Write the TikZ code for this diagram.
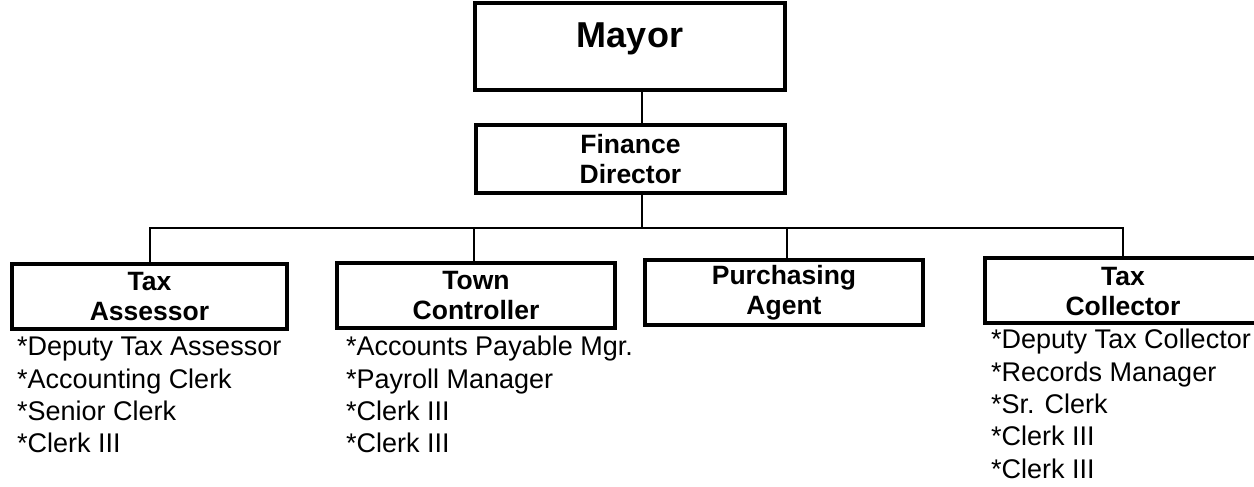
\documentclass[tikz,border=0pt]{standalone}
\usepackage{fontspec}
\setmainfont{Liberation Sans}
\begin{document}
\begin{tikzpicture}[x=1pt,y=-1pt,
  box/.style={draw, line width=4pt, inner sep=0pt, align=center,
    font=\bfseries\fontsize{26.5}{30}\selectfont},
  title/.style={inner sep=0pt, align=center,
    font=\bfseries\fontsize{26.5}{30}\selectfont},
  conn/.style={line width=2pt},
  list/.style={anchor=north west, inner sep=0pt, align=left,
    font=\fontsize{27}{32.4}\selectfont}]
\useasboundingbox (0,0) rectangle (1254,487);
\clip (0,0) rectangle (1254,487);
% boxes
\node[box, minimum width=310pt, text height=45pt, text depth=42pt,
  font=\bfseries\fontsize{36}{40}\selectfont] (mayor) at (630,46.5) {Mayor};
\node[box, minimum width=309pt, minimum height=68pt] (fin) at (630.5,159) {Finance\\Director};
\node[box, minimum width=275pt, minimum height=65pt] (ta) at (149.5,296.5) {Tax\\Assessor};
\node[box, minimum width=278pt, minimum height=65pt] (tc) at (476,295.5) {Town\\Controller};
\node[box, minimum width=278pt, minimum height=65pt] (pa) at (784,292.5) {Purchasing\\Agent};
\node[box, minimum width=320pt, minimum height=65pt] (tx) at (1145,290.5) {};
\node[title] (txt) at (1123,291.5) {Tax\\Collector};
% connectors
\coordinate (bus) at (642,228);
\draw[conn] (mayor.south -| bus) -- (fin.north -| bus);
\draw[conn] (fin.south -| bus) -- (bus);
\draw[conn] (ta.north) -- (ta.north |- bus) -- (txt |- bus) -- (txt |- tx.north);
\draw[conn] (tc.north -| 474,0) -- (474,228);
\draw[conn] (pa.north -| 787,0) -- (787,228);
% staff lists
\node[list] (tal) at (17,337) {*Deputy Tax Assessor\\*Accounting Clerk\\*Senior Clerk\\*Clerk III};
\node[list] (tcl) at (346,336) {*Accounts Payable Mgr.\\*Payroll Manager\\*Clerk III\\*Clerk III};
\node[list] (txl) at (991,329) {*Deputy Tax Collector\\*Records Manager\\*Sr. Clerk\\*Clerk III\\*Clerk III};
\end{tikzpicture}
\end{document}
